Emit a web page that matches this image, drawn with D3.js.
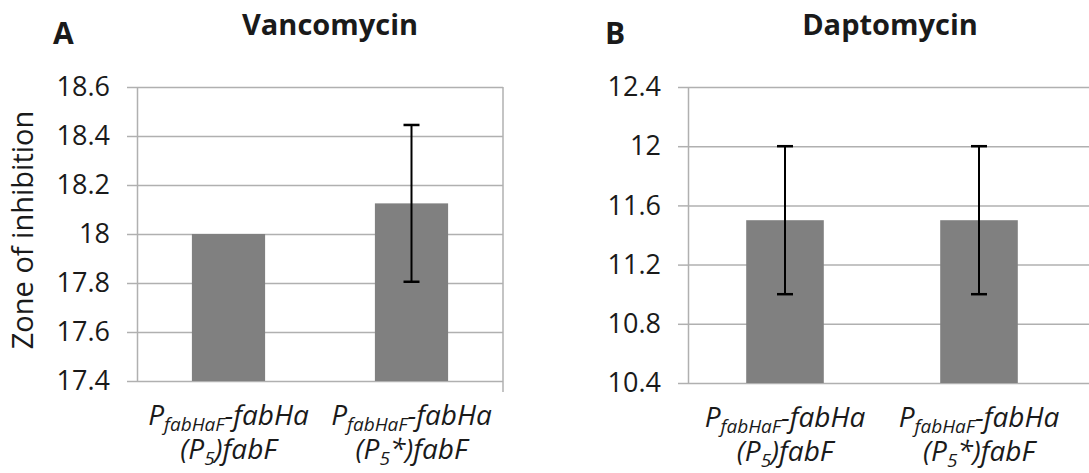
<!DOCTYPE html>
<html>
<head>
<meta charset="utf-8">
<script src="https://cdn.jsdelivr.net/npm/d3@7"></script>
<style>
  body { margin: 0; background: #fff; }
  svg { display: block; }
  text { font-family: "Open Sans", sans-serif; fill: #1a1a1a; }
</style>
</head>
<body>
<div id="chart"></div>
<script>
// data
var strains = ['P5', 'P5*'];
var vancoMeans = [18.0, 18.125];
var vancoErr = [0, 0.32];
var daptoMeans = [11.5, 11.5];
var daptoErr = [0.5, 0.5];
var vancoTicks = [17.4, 17.6, 17.8, 18.0, 18.2, 18.4, 18.6];
var daptoTicks = [10.4, 10.8, 11.2, 11.6, 12.0, 12.4];

var svgWidth = 1089;
var svgHeight = 473;

var svg = d3.select('#chart')
    .append('svg')
    .attr('width', svgWidth)
    .attr('height', svgHeight);

var gridColor = '#b0b0b0';

// draw one panel
function panel(opts) {
    var means = opts.means, errs = opts.errs, ticks = opts.ticks;
    var y = d3.scaleLinear()
        .domain([ticks[0], ticks[ticks.length - 1]])
        .range([opts.bottom, opts.top]);
    var x = d3.scaleBand()
        .domain(strains)
        .range([opts.left, opts.right])
        .paddingInner(0.6)
        .paddingOuter(0.3);

    var g = svg.append('g');

    // gridlines
    g.append('g')
        .attr('transform', `translate(${opts.left},0)`)
        .call(d3.axisRight(y).tickValues(ticks).tickSize(opts.gridEnd - opts.left).tickFormat(''))
        .call(a => a.select('.domain').remove())
        .call(a => a.selectAll('line').attr('stroke', gridColor).attr('stroke-width', 1.5));

    // left axis with outward ticks
    var yAxis = g.append('g')
        .attr('transform', `translate(${opts.left},0)`)
        .call(d3.axisLeft(y).tickValues(ticks).tickSize(10).tickSizeOuter(0).tickPadding(17)
            .tickFormat(d => String(+d.toFixed(1))));
    yAxis.select('.domain').attr('stroke', gridColor).attr('stroke-width', 1.5);
    yAxis.selectAll('line').attr('stroke', gridColor).attr('stroke-width', 1.5);
    yAxis.selectAll('text')
        .style('font-size', '27px')
        .attr('fill', '#1a1a1a')
        .style('font-family', '"Open Sans", sans-serif');

    if (opts.rightBorder) {
        g.append('line')
            .attr('x1', opts.right).attr('x2', opts.right)
            .attr('y1', y(ticks[ticks.length - 1])).attr('y2', opts.bottom + 11)
            .attr('stroke', gridColor).attr('stroke-width', 1.5);
    }

    // bars
    g.selectAll('rect.bar')
        .data(strains)
        .enter()
        .append('rect')
        .attr('class', 'bar')
        .attr('x', d => x(d))
        .attr('width', x.bandwidth())
        .attr('y', (d, i) => y(means[i]))
        .attr('height', (d, i) => opts.bottom - y(means[i]))
        .attr('fill', '#808080');

    // error bars
    strains.forEach((s, i) => {
        if (!errs[i]) return;
        var cx = x(s) + x.bandwidth() / 2;
        var hi = y(means[i] + errs[i]);
        var lo = y(means[i] - errs[i]);
        g.append('line').attr('x1', cx).attr('x2', cx).attr('y1', hi).attr('y2', lo)
            .attr('stroke', '#000').attr('stroke-width', 2);
        [hi, lo].forEach(yy => {
            g.append('line').attr('x1', cx - 8).attr('x2', cx + 8).attr('y1', yy).attr('y2', yy)
                .attr('stroke', '#000').attr('stroke-width', 2.5);
        });
    });

    // category labels
    strains.forEach((s, i) => {
        var cx = x(s) + x.bandwidth() / 2;
        var t1 = g.append('text')
            .attr('x', cx).attr('y', opts.bottom + 44)
            .attr('text-anchor', 'middle')
            .style('font-size', '28px')
            .style('font-style', 'italic');
        t1.append('tspan').text('P');
        t1.append('tspan').attr('dy', 6).style('font-size', '19px').text('fabHaF');
        t1.append('tspan').attr('dy', -6).text('-fabHa');

        var t2 = g.append('text')
            .attr('x', cx).attr('y', opts.bottom + 78)
            .attr('text-anchor', 'middle')
            .style('font-size', '28px')
            .style('font-style', 'italic');
        t2.append('tspan').text('(P');
        t2.append('tspan').attr('dy', 6).style('font-size', '19px').text('5');
        t2.append('tspan').attr('dy', -6).text(s === 'P5*' ? '*)fabF' : ')fabF');
    });

    // titles
    svg.append('text')
        .attr('x', opts.titleX).attr('y', 35)
        .attr('text-anchor', 'middle')
        .style('font-size', '29px')
        .style('font-weight', 'bold')
        .text(opts.title);
    svg.append('text')
        .attr('x', opts.letterX).attr('y', 44)
        .style('font-size', '30px')
        .style('font-weight', 'bold')
        .text(opts.letter);
}

panel({
    means: vancoMeans, errs: vancoErr, ticks: vancoTicks,
    left: 137, right: 503, top: 87, bottom: 381, gridEnd: 503,
    rightBorder: true, title: 'Vancomycin', titleX: 330, letter: 'A', letterX: 53
});

panel({
    means: daptoMeans, errs: daptoErr, ticks: daptoTicks,
    left: 688, right: 1076, top: 87, bottom: 383, gridEnd: 1089,
    rightBorder: false, title: 'Daptomycin', titleX: 890, letter: 'B', letterX: 605
});

// y axis title
svg.append('text')
    .attr('transform', 'translate(33,230) rotate(-90)')
    .attr('text-anchor', 'middle')
    .style('font-size', '29px')
    .text('Zone of inhibition');
</script>
</body>
</html>
